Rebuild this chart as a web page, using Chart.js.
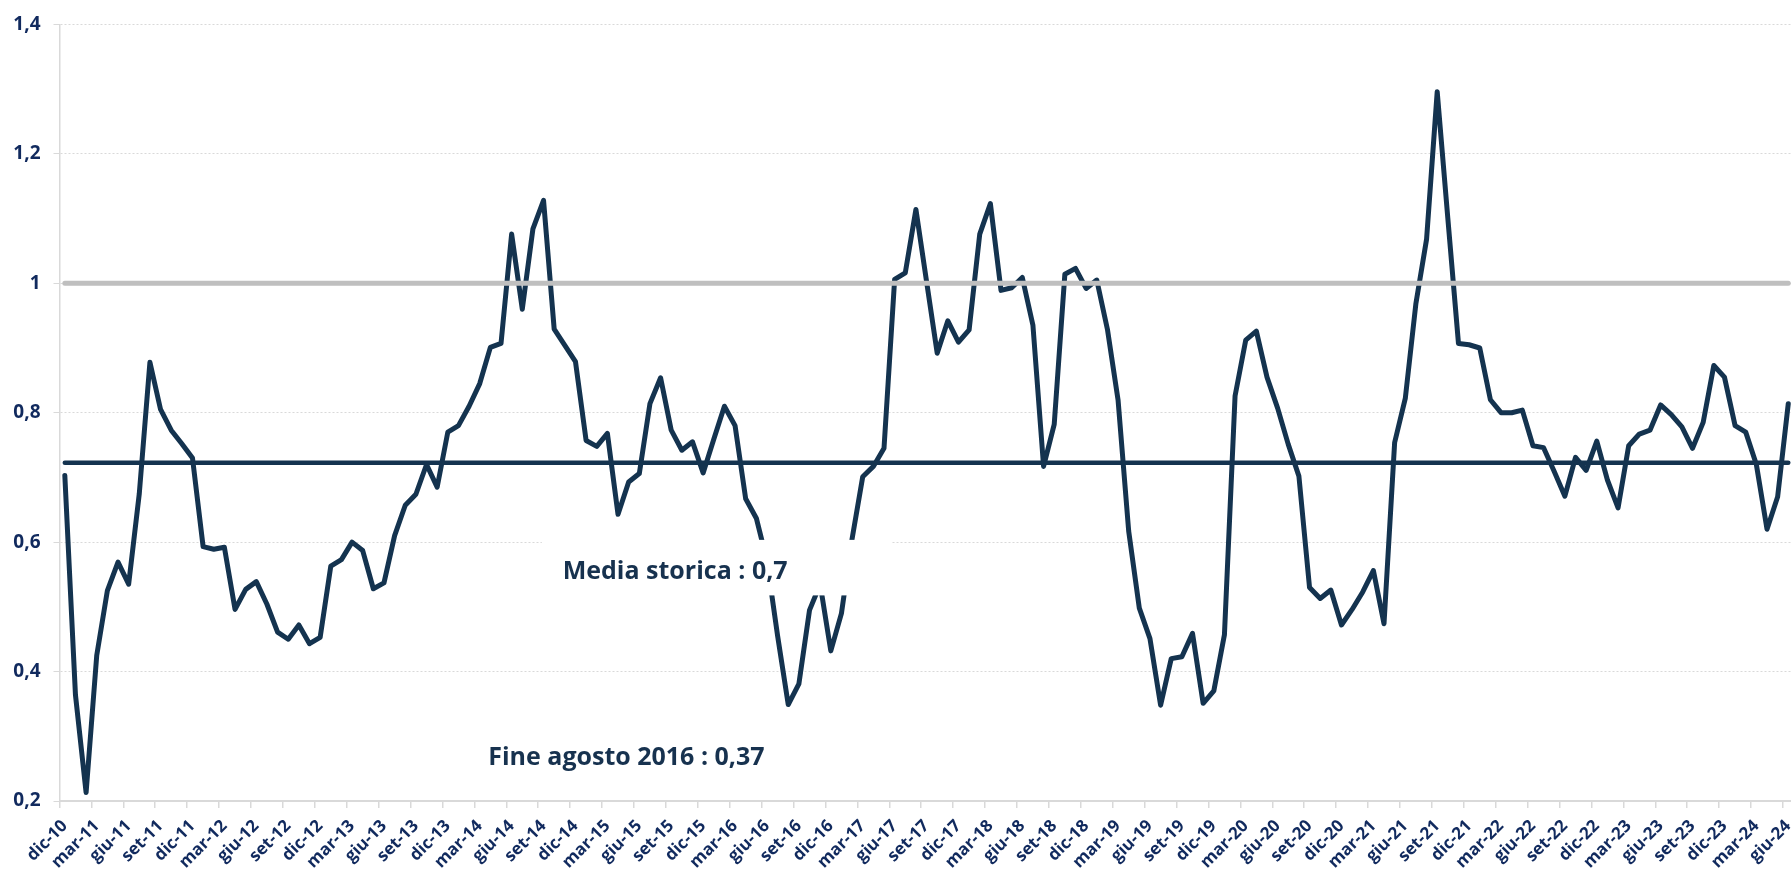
<!DOCTYPE html>
<html>
<head>
<meta charset="utf-8">
<script src="https://cdn.jsdelivr.net/npm/chart.js@4.4.1/dist/chart.umd.min.js"></script>
<style>
    html, body { margin: 0; padding: 0; background: #ffffff; overflow: hidden; }
    #wrap { width: 1800px; height: 876px; }
</style>
</head>
<body>
<div id="wrap"><canvas id="chart" width="1800" height="876"></canvas></div>
<script>
// mesi italiani, la serie parte da dic-10
const mesi = ["gen", "feb", "mar", "apr", "mag", "giu", "lug", "ago", "set", "ott", "nov", "dic"];

// valori mensili dic-10 ... giu-24
const valori = [
    0.703, 0.364, 0.213, 0.425, 0.525, 0.569, 0.535, 0.675, 0.878, 0.805, 0.773, 0.752,
    0.730, 0.593, 0.589, 0.592, 0.496, 0.527, 0.539, 0.504, 0.461, 0.450, 0.472, 0.443,
    0.453, 0.563, 0.573, 0.600, 0.587, 0.528, 0.537, 0.610, 0.657, 0.674, 0.720, 0.685,
    0.770, 0.780, 0.810, 0.845, 0.901, 0.907, 1.076, 0.960, 1.084, 1.128, 0.929, 0.904,
    0.879, 0.757, 0.748, 0.768, 0.643, 0.693, 0.706, 0.814, 0.854, 0.773, 0.742, 0.755,
    0.707, 0.759, 0.810, 0.780, 0.667, 0.637, 0.571, 0.455, 0.349, 0.381, 0.495, 0.535,
    0.432, 0.490, 0.605, 0.701, 0.717, 0.745, 1.006, 1.016, 1.114, 1.003, 0.892, 0.942,
    0.909, 0.928, 1.076, 1.123, 0.989, 0.993, 1.009, 0.935, 0.717, 0.782, 1.014, 1.023,
    0.992, 1.005, 0.929, 0.820, 0.617, 0.498, 0.451, 0.348, 0.420, 0.423, 0.459, 0.351,
    0.370, 0.457, 0.826, 0.912, 0.926, 0.855, 0.807, 0.751, 0.702, 0.530, 0.513, 0.526,
    0.472, 0.496, 0.523, 0.556, 0.474, 0.754, 0.822, 0.969, 1.068, 1.296, 1.100, 0.907,
    0.905, 0.900, 0.820, 0.800, 0.800, 0.804, 0.749, 0.746, 0.709, 0.671, 0.731, 0.711,
    0.756, 0.696, 0.653, 0.749, 0.767, 0.773, 0.812, 0.797, 0.778, 0.745, 0.785, 0.873,
    0.855, 0.780, 0.770, 0.720, 0.620, 0.670, 0.814
];

const mediaStorica = 0.7226; // linea blu orizzontale
const soglia = 1;            // linea grigia

// tick asse y
const yTicks = [0.2, 0.4, 0.6, 0.8, 1, 1.2, 1.4];

const categorie = valori.map(function (v, i) {
    const m = (11 + i) % 12;
    const anno = 10 + Math.floor((11 + i) / 12);
    return mesi[m] + "-" + anno;
});

// note di testo: posizione in indice categoria / valore
const note = [
    { testo: "Media storica : 0,7", x: 46.8, y: 0.543, box: [44.84, 77.73, 0.6035, 0.5177] },
    { testo: "Fine agosto 2016 : 0,37", x: 39.8, y: 0.255, box: null }
];

const navy = "#14334f";
const tickColor = "#112a5e";
const font = "'Open Sans', 'Noto Sans', sans-serif";
const W = 1800;

const notePlugin = {
    id: "note",
    afterDatasetsDraw(chart) {
        const ctx = chart.ctx;
        const xs = chart.scales.x;
        const ys = chart.scales.y;
        ctx.save();
        note.forEach(function (n) {
            if (n.box) {
                const l = xs.getPixelForValue(n.box[0]);
                const r = xs.getPixelForValue(n.box[1]);
                const t = ys.getPixelForValue(n.box[2]);
                const b = ys.getPixelForValue(n.box[3]);
                ctx.fillStyle = "#ffffff";
                ctx.fillRect(l, t, r - l, b - t);
            }
            ctx.fillStyle = "#17324f";
            ctx.font = "bold 25px " + font;
            ctx.textAlign = "left";
            ctx.textBaseline = "alphabetic";
            ctx.fillText(n.testo, xs.getPixelForValue(n.x), ys.getPixelForValue(n.y));
        });
        ctx.restore();
    }
};

new Chart(document.getElementById("chart"), {
    type: "line",
    data: {
        labels: categorie,
        datasets: [{
            label: "Soglia",
            data: categorie.map(function () { return soglia; }),
            borderColor: "#bfbfbf",
            borderWidth: 5,
            borderCapStyle: "round",
            pointRadius: 0,
            tension: 0
        }, {
            label: "Media storica",
            data: categorie.map(function () { return mediaStorica; }),
            borderColor: navy,
            borderWidth: 4.5,
            borderCapStyle: "round",
            pointRadius: 0,
            tension: 0
        }, {
            label: "Indice",
            data: valori,
            borderColor: navy,
            borderWidth: 5,
            borderJoinStyle: "round",
            borderCapStyle: "round",
            pointRadius: 0,
            tension: 0
        }]
    },
    options: {
        responsive: false,
        animation: false,
        devicePixelRatio: 1,
        layout: { padding: { top: 17, right: W - 1793.6, bottom: 0, left: 0 } },
        plugins: {
            legend: { display: false },
            tooltip: { enabled: false }
        },
        scales: {
            x: {
                type: "category",
                offset: true,
                grid: {
                    offset: true,
                    drawOnChartArea: false,
                    tickLength: 7,
                    lineWidth: 1.5,
                    color: function (c) { return c.index % 3 === 0 ? "#d9d9d9" : "rgba(0,0,0,0)"; }
                },
                border: { color: "#d9d9d9", width: 2 },
                ticks: {
                    autoSkip: false,
                    maxRotation: 45,
                    minRotation: 45,
                    padding: 8,
                    color: tickColor,
                    font: { family: font, weight: "bold", size: 17 },
                    callback: function (v, i) { return i % 3 === 0 ? categorie[i] : ""; }
                },
                afterFit: function (s) {
                    s.height = 75;
                    s.paddingLeft = 0;
                    s.paddingRight = 0;
                }
            },
            y: {
                min: 0.2,
                max: 1.4,
                afterBuildTicks: function (s) {
                    s.ticks = yTicks.map(function (v) { return { value: v }; });
                },
                grid: {
                    color: "#d9d9d9",
                    lineWidth: 1,
                    tickLength: 6
                },
                border: { color: "#d9d9d9", width: 1.5, dash: [2, 2] },
                ticks: {
                    padding: 13,
                    color: tickColor,
                    font: { family: font, weight: "bold", size: 19 },
                    callback: function (v) { return String(Math.round(v * 10) / 10).replace(".", ","); }
                },
                afterFit: function (s) {
                    s.width = 59.5;
                }
            }
        }
    },
    plugins: [notePlugin]
});
</script>
</body>
</html>
